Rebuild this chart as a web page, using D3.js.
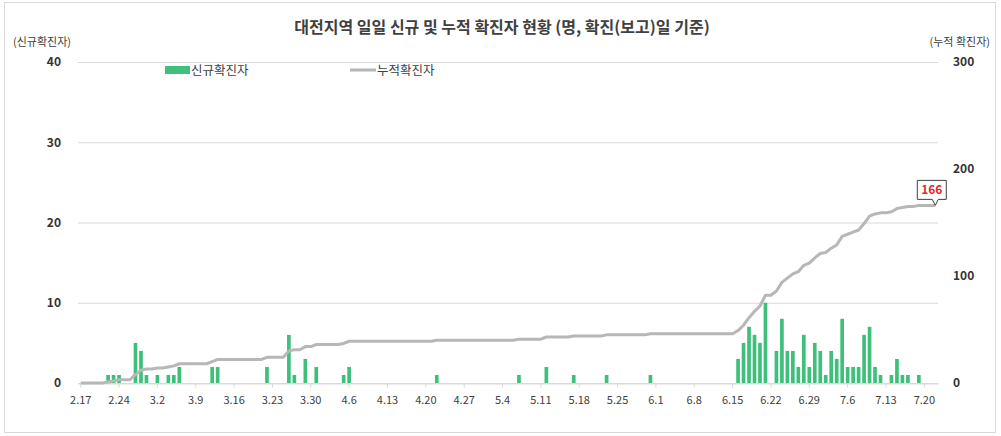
<!DOCTYPE html>
<html>
<head>
<meta charset="utf-8">
<script src="https://cdn.jsdelivr.net/npm/d3@7"></script>
<style>
  body { margin: 0; background: #fff; }
  text { font-family: "Noto Sans CJK KR", "Noto Sans", sans-serif; }
</style>
</head>
<body>
<div id="chart"></div>
<script>
// 일자 (2.17 ~ 7.22)
const dates = d3.timeDay.range(new Date(2020, 1, 17), new Date(2020, 6, 23));

// 일일 신규 확진자
const daily = [
  0, 0, 0, 0, 0, 1, 1, 1, 0, 0,
  5, 4, 1, 0, 1, 0, 1, 1, 2, 0,
  0, 0, 0, 0, 2, 2, 0, 0, 0, 0,
  0, 0, 0, 0, 2, 0, 0, 0, 6, 1,
  0, 3, 0, 2, 0, 0, 0, 0, 1, 2,
  0, 0, 0, 0, 0, 0, 0, 0, 0, 0,
  0, 0, 0, 0, 0, 1, 0, 0, 0, 0,
  0, 0, 0, 0, 0, 0, 0, 0, 0, 0,
  1, 0, 0, 0, 0, 2, 0, 0, 0, 0,
  1, 0, 0, 0, 0, 0, 1, 0, 0, 0,
  0, 0, 0, 0, 1, 0, 0, 0, 0, 0,
  0, 0, 0, 0, 0, 0, 0, 0, 0, 0,
  3, 5, 7, 6, 5, 10, 0, 4, 8, 4,
  4, 2, 6, 2, 5, 4, 1, 4, 3, 8,
  2, 2, 2, 6, 7, 2, 1, 0, 1, 3,
  1, 1, 0, 1, 0, 0, 0
];

// 누적 확진자
const cumulative = [
  0, 0, 0, 0, 0, 1, 2, 3, 3, 3,
  8, 12, 13, 13, 14, 14, 15, 16, 18, 18,
  18, 18, 18, 18, 20, 22, 22, 22, 22, 22,
  22, 22, 22, 22, 24, 24, 24, 24, 30, 31,
  31, 34, 34, 36, 36, 36, 36, 36, 37, 39,
  39, 39, 39, 39, 39, 39, 39, 39, 39, 39,
  39, 39, 39, 39, 39, 40, 40, 40, 40, 40,
  40, 40, 40, 40, 40, 40, 40, 40, 40, 40,
  41, 41, 41, 41, 41, 43, 43, 43, 43, 43,
  44, 44, 44, 44, 44, 44, 45, 45, 45, 45,
  45, 45, 45, 45, 46, 46, 46, 46, 46, 46,
  46, 46, 46, 46, 46, 46, 46, 46, 46, 46,
  49, 54, 61, 67, 72, 82, 82, 86, 94, 98,
  102, 104, 110, 112, 117, 121, 122, 126, 129, 137,
  139, 141, 143, 149, 156, 158, 159, 159, 160, 163,
  164, 165, 165, 166, 166, 166, 166
];

const leftTicks = [0, 10, 20, 30, 40];
const rightTicks = [0, 100, 200, 300];
const title = "대전지역 일일 신규 및 누적 확진자 현황 (명, 확진(보고)일 기준)";

const width = 1001;
const height = 436;
const marginLeft = 78;
const marginRight = 63;
const marginTop = 62;
const marginBottom = 53;

const svg = d3.select("#chart")
  .append("svg")
  .attr("width", width)
  .attr("height", height)
  .attr("viewBox", [0, 0, width, height]);

// 바깥 테두리
svg.append("rect")
  .attr("x", 4.5).attr("y", 2.5)
  .attr("width", 991).attr("height", 430)
  .attr("fill", "#fff")
  .attr("stroke", "#d9d9d9");

// 스케일
const x = d3.scaleBand()
  .domain(dates)
  .range([marginLeft, width - marginRight])
  .paddingInner(0.33)
  .paddingOuter(0.16);

const cx = d => x(d) + x.bandwidth() / 2;

const yLeft = d3.scaleLinear()
  .domain([0, 40])
  .range([height - marginBottom, marginTop]);

const yRight = d3.scaleLinear()
  .domain([0, 300])
  .range([height - marginBottom, marginTop]);

// 격자선
svg.append("g")
  .selectAll("line")
  .data(leftTicks)
  .join("line")
  .attr("x1", marginLeft)
  .attr("x2", width - marginRight)
  .attr("y1", d => yLeft(d) + 0.5)
  .attr("y2", d => yLeft(d) + 0.5)
  .attr("stroke", "#d9d9d9");

// 왼쪽 축
svg.append("g")
  .attr("transform", `translate(${marginLeft - 14},0)`)
  .call(d3.axisLeft(yLeft).tickValues(leftTicks).tickSize(0))
  .call(g => g.select(".domain").remove())
  .call(g => g.selectAll("text")
    .attr("font-family", "'Noto Sans CJK KR', sans-serif")
    .attr("font-size", 12)
    .attr("font-weight", "bold")
    .attr("fill", "#333"));

// 오른쪽 축
svg.append("g")
  .attr("transform", `translate(${width - marginRight + 12},0)`)
  .call(d3.axisRight(yRight).tickValues(rightTicks).tickSize(0))
  .call(g => g.select(".domain").remove())
  .call(g => g.selectAll("text")
    .attr("font-family", "'Noto Sans CJK KR', sans-serif")
    .attr("font-size", 12)
    .attr("font-weight", "bold")
    .attr("fill", "#333"));

// x축 (7일 간격)
const fmt = d3.timeFormat("%-m.%-d");
const tickDates = dates.filter((d, i) => i % 7 === 0);

svg.append("g")
  .attr("transform", `translate(0,${height - marginBottom + 0.5})`)
  .call(d3.axisBottom(x).tickValues(tickDates).tickFormat(fmt).tickSize(4).tickSizeOuter(0))
  .call(g => g.select(".domain").attr("stroke", "#d9d9d9"))
  .call(g => g.selectAll(".tick line").attr("stroke", "#d9d9d9"))
  .call(g => g.selectAll("text")
    .attr("font-family", "'Noto Sans CJK KR', sans-serif")
    .attr("font-size", 11)
    .attr("fill", "#404040")
    .attr("dy", "1.2em"));

// 신규 확진자 막대
svg.append("g")
  .attr("fill", "#3fbf7c")
  .selectAll("rect")
  .data(dates.map((d, i) => ({ date: d, value: daily[i] })).filter(d => d.value > 0))
  .join("rect")
  .attr("x", d => x(d.date))
  .attr("y", d => yLeft(d.value))
  .attr("width", x.bandwidth())
  .attr("height", d => yLeft(0) - yLeft(d.value));

// 누적 확진자 선
const line = d3.line()
  .x((d, i) => cx(dates[i]))
  .y(d => yRight(d));

svg.append("path")
  .datum(cumulative)
  .attr("fill", "none")
  .attr("stroke", "#b7b7b7")
  .attr("stroke-width", 3)
  .attr("stroke-linejoin", "round")
  .attr("d", line);

// 마지막 값 말풍선
const last = cumulative.length - 1;
const ax = cx(dates[last]);
const ay = yRight(cumulative[last]);
const bl = ax - 18, br = ax + 11, bt = ay - 25, bb = ay - 6;

svg.append("path")
  .attr("d", `M${bl},${bt}H${br}V${bb}H${ax + 3}L${ax},${ay}L${ax - 3},${bb}H${bl}Z`)
  .attr("fill", "#fff")
  .attr("stroke", "#404040")
  .attr("stroke-width", 1);

svg.append("text")
  .attr("x", (bl + br) / 2)
  .attr("y", bb - 5)
  .attr("text-anchor", "middle")
  .attr("font-size", 12)
  .attr("font-weight", "bold")
  .attr("fill", "#e02b2b")
  .text(cumulative[last]);

// 제목
svg.append("text")
  .attr("x", 502)
  .attr("y", 33)
  .attr("text-anchor", "middle")
  .attr("font-size", 16)
  .attr("font-weight", "bold")
  .attr("fill", "#404040")
  .text(title);

// 축 제목
svg.append("text")
  .attr("x", 13)
  .attr("y", 46)
  .attr("font-size", 11)
  .attr("fill", "#404040")
  .text("(신규확진자)");

svg.append("text")
  .attr("x", 990)
  .attr("y", 46)
  .attr("text-anchor", "end")
  .attr("font-size", 11)
  .attr("fill", "#404040")
  .text("(누적 확진자)");

// 범례
const legend = svg.append("g").attr("font-size", 12.5).attr("fill", "#404040");

legend.append("rect")
  .attr("x", 165).attr("y", 66)
  .attr("width", 25).attr("height", 8)
  .attr("fill", "#3fbf7c");

legend.append("text")
  .attr("x", 191).attr("y", 75)
  .text("신규확진자");

legend.append("line")
  .attr("x1", 350).attr("x2", 376)
  .attr("y1", 70).attr("y2", 70)
  .attr("stroke", "#b7b7b7")
  .attr("stroke-width", 3);

legend.append("text")
  .attr("x", 377).attr("y", 75)
  .text("누적확진자");
</script>
</body>
</html>
